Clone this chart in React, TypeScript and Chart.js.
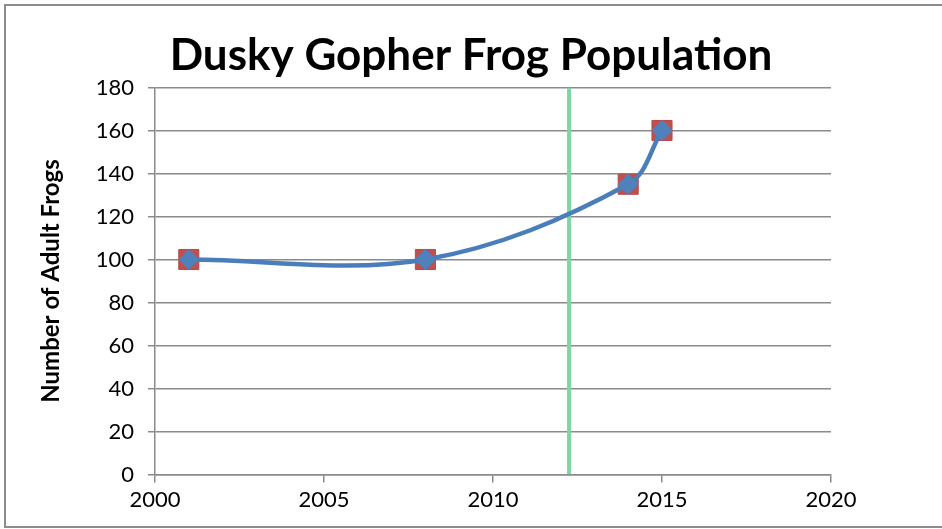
import React, { useEffect, useRef } from "react";
import { Chart, registerables } from "chart.js";

Chart.register(...registerables);

const chartTitle = "Dusky Gopher Frog Population";
const yAxisTitle = "Number of Adult Frogs";
const years = [2001, 2008, 2014, 2015];
const adultFrogs = [100, 100, 135, 160];
const markerYear = 2012.25;
const markerRange = [0, 180];
const xTicks = [2000, 2005, 2010, 2015, 2020];
const yTicks = [0, 20, 40, 60, 80, 100, 120, 140, 160, 180];

const FONT = "Lato, 'Open Sans', 'DejaVu Sans', sans-serif";
const GRID = "#8a8a8a";

const borderPlugin = {
  id: "outerBorder",
  afterDraw(chart: any) {
    const ctx = chart.ctx;
    ctx.save();
    ctx.strokeStyle = "#8c8c8c";
    ctx.lineWidth = 2;
    ctx.strokeRect(5, 5, 960, 522);
    ctx.restore();
  },
};

export default function App() {
  const ref = useRef<HTMLCanvasElement | null>(null);

  useEffect(() => {
    if (!ref.current) return;
    const points = years.map((x, i) => ({ x, y: adultFrogs[i] }));
    const chart = new Chart(ref.current, {
      type: "scatter",
      data: {
        datasets: [
          {
            label: "Series 2",
            data: points,
            showLine: true,
            tension: 0.35,
            borderColor: "#4A7EBB",
            borderWidth: 4.5,
            pointStyle: "rectRot",
            pointRadius: 10,
            pointHoverRadius: 10,
            pointBackgroundColor: "#4F81BD",
            pointBorderColor: "#4F81BD",
            pointBorderWidth: 1,
          },
          {
            label: "Series 1",
            data: points,
            showLine: false,
            pointStyle: "rect",
            pointRadius: 14.2,
            pointHoverRadius: 14.2,
            pointBackgroundColor: "#C0504D",
            pointBorderColor: "#B64A47",
            pointBorderWidth: 1,
          },
          {
            label: "Marker",
            data: markerRange.map((y) => ({ x: markerYear, y })),
            showLine: true,
            borderColor: "#7FD6A4",
            borderWidth: 4,
            pointRadius: 0,
            pointHoverRadius: 0,
          },
        ],
      },
      options: {
        responsive: false,
        animation: false,
        events: [],
        layout: { padding: 0 },
        plugins: {
          legend: { display: false },
          tooltip: { enabled: false },
          title: {
            display: true,
            text: chartTitle,
            color: "#000",
            font: { family: FONT, size: 44, weight: "bold" },
            padding: { top: 29.6, bottom: 5.1 },
          },
        },
        scales: {
          x: {
            type: "linear",
            min: 2000,
            max: 2020,
            afterFit: (s: any) => {
              s.height = 54.5;
            },
            afterBuildTicks: (s: any) => {
              s.ticks = xTicks.map((v) => ({ value: v }));
            },
            grid: {
              drawOnChartArea: false,
              drawTicks: true,
              tickLength: 8,
              color: GRID,
              lineWidth: 1.5,
            },
            border: { display: true, color: GRID, width: 1.5 },
            ticks: {
              color: "#000",
              padding: 4.3,
              maxRotation: 0,
              font: { family: FONT, size: 22 },
              callback: (v: any) => String(v),
            },
          },
          y: {
            type: "linear",
            min: 0,
            max: 180,
            afterFit: (s: any) => {
              s.width = 155;
            },
            afterBuildTicks: (s: any) => {
              s.ticks = yTicks.map((v) => ({ value: v }));
            },
            grid: {
              drawOnChartArea: true,
              drawTicks: true,
              tickLength: 7,
              color: GRID,
              lineWidth: 1.5,
            },
            border: { display: true, color: GRID, width: 1.5 },
            ticks: {
              color: "#000",
              padding: 14,
              font: { family: FONT, size: 22 },
              callback: (v: any) => String(v),
            },
            title: {
              display: true,
              text: yAxisTitle,
              color: "#000",
              font: { family: FONT, size: 24, weight: "bold" },
              padding: { top: 36.6, bottom: 0 },
            },
          },
          spacer: {
            type: "linear",
            position: "right",
            display: true,
            afterFit: (s: any) => {
              s.width = 111;
            },
            grid: { drawOnChartArea: false, drawTicks: false, display: false },
            border: { display: false },
            ticks: { display: false },
          },
        },
      },
      plugins: [borderPlugin],
    });
    return () => chart.destroy();
  }, []);

  return (
    <div style={{ position: "fixed", left: 0, top: 0, width: 942, height: 529, background: "#fff" }}>
      <canvas ref={ref} width={942} height={529} style={{ display: "block" }} />
    </div>
  );
}
